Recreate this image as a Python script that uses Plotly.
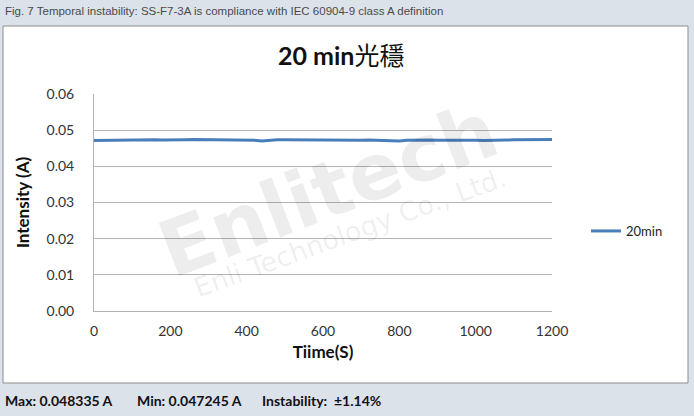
import plotly.graph_objects as go

# ---- data ----
time_s = [0, 20, 40, 60, 80, 100, 120, 140, 160, 180, 200, 220, 240, 260, 280, 300,
          320, 340, 360, 380, 400, 420, 440, 460, 480, 500, 520, 540, 560, 580, 600,
          620, 640, 660, 680, 700, 720, 740, 760, 780, 800, 820, 840, 860, 880, 900,
          920, 940, 960, 980, 1000, 1020, 1040, 1060, 1080, 1100, 1120, 1140, 1160, 1180, 1200]
intensity_a = [0.04712, 0.04716, 0.04720, 0.04724, 0.04728, 0.04733, 0.04738, 0.04736,
               0.04732, 0.04726, 0.04722, 0.04728, 0.04733, 0.04740, 0.04738, 0.04733,
               0.04730, 0.04728, 0.04726, 0.04724, 0.04722, 0.04718, 0.04700, 0.04722,
               0.04732, 0.04735, 0.04732, 0.04734, 0.04730, 0.04727, 0.04729, 0.04726,
               0.04724, 0.04727, 0.04725, 0.04722, 0.04726, 0.04724, 0.04720, 0.04712,
               0.04698, 0.04718, 0.04726, 0.04730, 0.04727, 0.04724, 0.04726, 0.04728,
               0.04724, 0.04722, 0.04720, 0.04715, 0.04714, 0.04722, 0.04728, 0.04732,
               0.04735, 0.04733, 0.04736, 0.04738, 0.04740]
series_name = "20min"
y_ticks = [0.00, 0.01, 0.02, 0.03, 0.04, 0.05, 0.06]
y_tick_text = ["0.00", "0.01", "0.02", "0.03", "0.04", "0.05", "0.06"]
x_ticks = [0, 200, 400, 600, 800, 1000, 1200]
chart_title = "20 min光穩"
caption = "Fig. 7 Temporal instability: SS-F7-3A is compliance with IEC 60904-9 class A definition"
stats = ["Max: 0.048335 A", "Min: 0.047245 A", "Instability:  ±1.14%"]

W, H = 694, 416
L, R, T, B = 94, 552, 94, 311  # plot area in pixels


def px(x):
    return (x - L) / (R - L)


def py(y):
    return (B - y) / (B - T)


font_main = "Lato, 'Noto Sans CJK TC', sans-serif"

fig = go.Figure()
fig.add_trace(go.Scatter(
    x=time_s, y=intensity_a, mode="lines", name=series_name,
    line=dict(color="#4a7ebb", width=3),
))

fig.update_layout(
    width=W, height=H,
    margin=dict(l=L, r=W - R, t=T, b=H - B, pad=0),
    paper_bgcolor="#dce2ea",
    plot_bgcolor="rgba(0,0,0,0)",
    showlegend=True,
    legend=dict(x=px(586), y=py(231), xanchor="left", yanchor="middle",
                font=dict(family=font_main, size=13, color="#222"),
                bgcolor="rgba(0,0,0,0)", itemwidth=30),
    xaxis=dict(range=[0, 1200], tickvals=x_ticks, showgrid=False, zeroline=False,
               showline=True, linecolor="#b0b0b0", linewidth=1,
               ticks="", ticklabelstandoff=7,
               tickfont=dict(family=font_main, size=14, color="#333"),
               title=dict(text="<b>Tiime(S)</b>", standoff=8,
                          font=dict(family=font_main, size=17, color="#111"))),
    yaxis=dict(range=[0, 0.06], tickvals=y_ticks, ticktext=y_tick_text,
               showgrid=True, gridcolor="#b4b4b4", gridwidth=1, zeroline=False,
               showline=True, linecolor="#b0b0b0", linewidth=1,
               ticks="", ticklabelstandoff=16,
               tickfont=dict(family=font_main, size=14, color="#333"),
               title=dict(text="<b>Intensity (A)</b>", standoff=12,
                          font=dict(family=font_main, size=17, color="#111"))),
    shapes=[
        dict(type="rect", xref="paper", yref="paper", layer="below",
             x0=px(3), x1=px(688), y0=py(383), y1=py(26),
             fillcolor="white", line=dict(color="#8c8c8c", width=1)),
    ],
    annotations=[
        dict(text=caption, xref="paper", yref="paper", x=px(3), y=py(11),
             xanchor="left", yanchor="middle", showarrow=False,
             font=dict(family="'Liberation Sans Narrow', 'Liberation Sans', Arial", size=11.5, color="#4a4a4a")),
        dict(text="<b>" + chart_title.replace("光穩", "</b>光穩"), xref="paper", yref="paper",
             x=px(341), y=py(55), xanchor="center", yanchor="middle", showarrow=False,
             font=dict(family=font_main, size=25, color="#111")),
        dict(text="<b>Enlitech</b>", xref="paper", yref="paper", x=px(328), y=py(190),
             xanchor="center", yanchor="middle", showarrow=False, textangle=-21,
             font=dict(family="DejaVu Sans", size=78, color="rgba(0,0,0,0.07)")),
        dict(text="Enli Technology Co., Ltd.", xref="paper", yref="paper", x=px(350), y=py(232),
             xanchor="center", yanchor="middle", showarrow=False, textangle=-20,
             font=dict(family="DejaVu Sans", size=27, color="rgba(0,0,0,0.07)")),
        dict(text="<b>" + stats[0] + "</b>", xref="paper", yref="paper", x=px(3), y=py(400),
             xanchor="left", yanchor="middle", showarrow=False,
             font=dict(family=font_main, size=14, color="#111")),
        dict(text="<b>" + stats[1] + "</b>", xref="paper", yref="paper", x=px(135), y=py(400),
             xanchor="left", yanchor="middle", showarrow=False,
             font=dict(family=font_main, size=14, color="#111")),
        dict(text="<b>" + stats[2] + "</b>", xref="paper", yref="paper", x=px(260), y=py(400),
             xanchor="left", yanchor="middle", showarrow=False,
             font=dict(family=font_main, size=14, color="#111")),
    ],
)

fig.write_html("out.html", config={"displayModeBar": False},
               post_script="document.body.style.margin='0';document.body.style.padding='0';")
